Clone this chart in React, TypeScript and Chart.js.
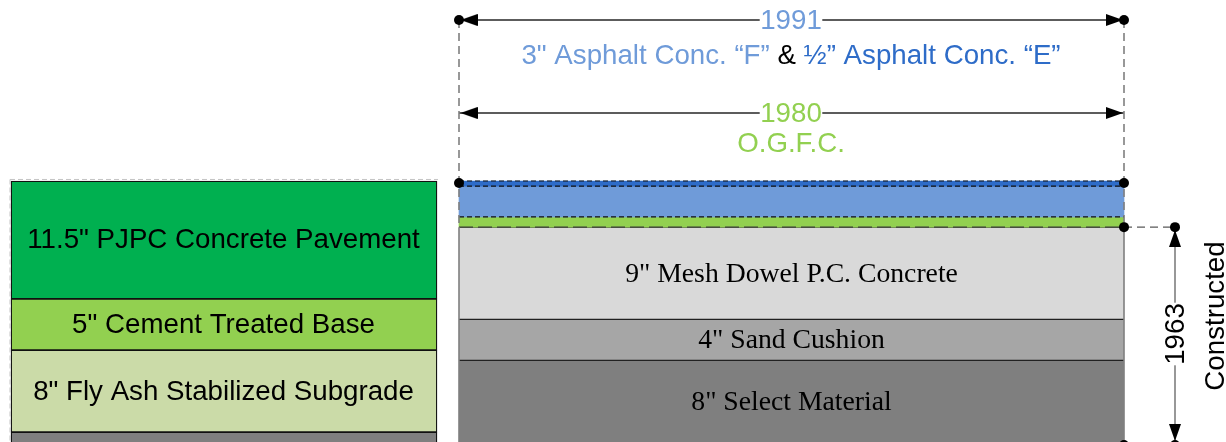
import React, { useEffect, useRef } from "react";
import { Chart, registerables } from "chart.js";

Chart.register(...registerables);

// ---- data: layer thickness in inches, top to bottom ----
const leftLayers = [11.5, 5, 8, 8];
const leftLabels = ['11.5" PJPC Concrete Pavement', '5" Cement Treated Base', '8" Fly Ash Stabilized Subgrade', ""];
const leftColors = ["#00b050", "#92d050", "#cbdba8", "#7f7f7f"];

const rightLayers = [0.5, 3, 1, 9, 4, 8];
const rightLabels = ["", "", "", '9" Mesh Dowel P.C. Concrete', '4" Sand Cushion', '8" Select Material'];
const rightColors = ["#2e6cc8", "#6f9bd9", "#92d050", "#d9d9d9", "#a6a6a6", "#7f7f7f"];

const yearTop = "1991";
const yearMid = "1980";
const yearSide = "1963";
const sideTitle = "Constructed";
const midTitle = "O.G.F.C.";
const topTitle = [
  { t: '3" Asphalt Conc. “F” ', c: "#6f9bd9" },
  { t: "& ", c: "#000000" },
  { t: "½” Asphalt Conc. “E”", c: "#2e6cc8" },
];

// ---- layout ----
const PX = 10.25;
const TOP = 181;
const W = 1226;
const H = 442;
const L0 = 11, L1 = 437, R0 = 459, R1 = 1124, SIDE = 1175;
const d = (py: number) => (py - TOP) / PX;

function stack(vals: number[]) {
  let a = 0;
  return vals.map((v) => {
    const r = [a, a + v];
    a += v;
    return r;
  });
}

function arrow() {
  const len = 17, half = 6;
  const c = document.createElement("canvas");
  c.width = len * 2;
  c.height = half * 2 + 2;
  const g = c.getContext("2d")!;
  g.fillStyle = "#000";
  g.beginPath();
  g.moveTo(len, half + 1);
  g.lineTo(0, 1);
  g.lineTo(0, half * 2 + 1);
  g.closePath();
  g.fill();
  return c;
}

const line = (pts: number[][], color: string, width: number, dash: number[] = []) => ({
  type: "line" as const,
  order: 1,
  data: pts.map(([x, y]) => ({ x, y })),
  borderColor: color,
  borderWidth: width,
  borderDash: dash,
  pointRadius: 0,
  fill: false,
  tension: 0,
});

const textPlugin = {
  id: "layerText",
  afterDatasetsDraw(chart: any) {
    const ctx = chart.ctx;
    const sx = chart.scales.x;
    const sy = chart.scales.y;
    const px = (v: number) => sx.getPixelForValue(v);
    const py = (v: number) => sy.getPixelForValue(v);
    const put = (s: string, x: number, y: number, font: string, color: string, bg = false, rot = 0) => {
      ctx.save();
      ctx.translate(x, y);
      ctx.rotate(rot);
      ctx.font = font;
      ctx.textAlign = "center";
      ctx.textBaseline = "middle";
      if (bg) {
        const w = ctx.measureText(s).width + 1;
        ctx.fillStyle = "#fff";
        ctx.fillRect(-w / 2, -12, w, 24);
      }
      ctx.fillStyle = color;
      ctx.fillText(s, 0, 1);
      ctx.restore();
    };
    const sans = '27.7px "Liberation Sans"';
    const serif = '27.7px "Liberation Serif"';
    const leftNudge = [-1, 0, 0, 0];
    stack(leftLayers).forEach(([a, b], i) => {
      if (leftLabels[i]) put(leftLabels[i], px((L0 + L1) / 2) - 0.5, py((a + b) / 2) + leftNudge[i], sans, "#000");
    });
    stack(rightLayers).forEach(([a, b], i) => {
      if (rightLabels[i]) put(rightLabels[i], px((R0 + R1) / 2), py((a + b) / 2), serif, "#000");
    });
    put(yearTop, px(791), py(d(20.5)), sans, "#6f9bd9", true);
    put(yearMid, px(791), py(d(113)), sans, "#92d050", true);
    put(midTitle, px(791), py(d(143)), sans, "#92d050");
    put(yearSide, px(SIDE), py(d(334)), sans, "#000", true, -Math.PI / 2);
    put(sideTitle, px(1215.5), py(d(316)), sans, "#000", false, -Math.PI / 2);
    // three coloured pieces of the top caption
    ctx.save();
    ctx.font = sans;
    ctx.textBaseline = "middle";
    ctx.textAlign = "left";
    const total = topTitle.reduce((s, p) => s + ctx.measureText(p.t).width, 0);
    let x = px(791) - total / 2;
    for (const p of topTitle) {
      ctx.fillStyle = p.c;
      ctx.fillText(p.t, x, py(d(56.5)));
      x += ctx.measureText(p.t).width;
    }
    ctx.restore();
  },
};

export default function App() {
  const ref = useRef<HTMLCanvasElement>(null);
  useEffect(() => {
    document.body.style.margin = "0";
    const head = arrow();
    const bars = (layers: number[], colors: string[], a: number, b: number, border: any) =>
      stack(layers).map((r, i) => ({
        type: "bar" as const,
        order: 2,
        grouped: false,
        data: [{ x: (a + b) / 2, y: r }],
        backgroundColor: colors[i],
        barThickness: b - a,
        borderColor: border.color,
        borderWidth: border.width(i),
        borderSkipped: false,
      }));
    const tips = (pts: number[][], deg: number) => ({
      type: "line" as const,
      order: 0,
      data: pts.map(([x, y]) => ({ x, y })),
      showLine: false,
      pointStyle: head,
      pointRotation: deg,
      pointRadius: 10,
    });
    const rightEnd = stack(rightLayers);
    const chart = new Chart(ref.current!, {
      type: "bar",
      data: {
        datasets: [
          ...bars(leftLayers, leftColors, L0, L1, { color: "#111", width: () => 1.3 }),
          ...bars(rightLayers, rightColors, R0, R1, {
            color: "#222",
            width: (i: number) =>
              i > 2 ? { top: 1, bottom: i === rightLayers.length - 1 ? 0 : 1, left: 0, right: 0 } : 0,
          }),
          // faint construction outline round the left column
          line([[L0 - 1, -0.15], [L1 + 1, -0.15]], "#c4c4c4", 1, [5, 3]),
          line([[L0 - 1, -0.15], [L0 - 1, d(H)]], "#c4c4c4", 1, [5, 3]),
          // solid sides of the 1963 structure
          line([[R0, rightEnd[3][0]], [R0, d(H + 5)]], "#7f7f7f", 1.6),
          line([[R1, rightEnd[3][0]], [R1, d(H + 5)]], "#7f7f7f", 1.6),
          // extension lines
          line([[R0, d(20)], [R0, rightEnd[2][1]]], "#7f7f7f", 1.6, [8, 5]),
          line([[R1, d(20)], [R1, rightEnd[2][1]]], "#7f7f7f", 1.6, [8, 5]),
          line([[R1, rightEnd[3][0]], [SIDE, rightEnd[3][0]]], "#595959", 1.3, [8, 5]),
          // overlay boundaries
          line([[R0, rightEnd[0][0]], [R1, rightEnd[0][0]]], "#111", 1.2, [5, 3]),
          line([[R0, rightEnd[1][0]], [R1, rightEnd[1][0]]], "#111", 1.2, [5, 3]),
          line([[R0, rightEnd[2][0]], [R1, rightEnd[2][0]]], "#111", 1.2, [5, 3]),
          line([[R0, rightEnd[3][0]], [R1, rightEnd[3][0]]], "#3a3a3a", 1.4, [14, 5]),
          // dimension lines
          line([[R0, d(20)], [R1, d(20)]], "#262626", 1.4),
          line([[R0, d(113)], [R1, d(113)]], "#262626", 1.4),
          line([[SIDE, rightEnd[3][0]], [SIDE, d(H + 5)]], "#7f7f7f", 1.6),
          tips([[R1 - 1, d(20)], [R1 - 1, d(113)]], 0),
          tips([[R0 + 1.5, d(20)], [R0 + 1.5, d(113)]], 180),
          tips([[SIDE, d(230)]], -90),
          tips([[SIDE, d(441)]], 90),
          {
            type: "line" as const,
            order: 0,
            data: [
              { x: R0, y: d(20) },
              { x: R1, y: d(20) },
              { x: R0, y: d(183) },
              { x: R1, y: d(183) },
              { x: R1, y: rightEnd[3][0] },
              { x: SIDE, y: rightEnd[3][0] },
              { x: R1, y: d(445) },
              { x: SIDE, y: d(445) },
            ],
            showLine: false,
            pointRadius: 5,
            pointBackgroundColor: "#000",
            pointBorderWidth: 0,
          },
        ] as any,
      },
      options: {
        animation: false,
        responsive: false,
        devicePixelRatio: 1,
        layout: { padding: 0, autoPadding: false },
        events: [],
        plugins: { legend: { display: false }, tooltip: { enabled: false } },
        scales: {
          x: { type: "linear", min: 0, max: W, display: false, offset: false, bounds: "data", grid: { offset: false } },
          y: { type: "linear", reverse: true, min: d(0), max: d(H), display: false, offset: false, bounds: "data", beginAtZero: false },
        },
      },
      plugins: [textPlugin],
    });
    return () => chart.destroy();
  }, []);
  return (
    <div style={{ position: "fixed", left: 0, top: 0, width: W, height: H, background: "#fff" }}>
      <canvas ref={ref} width={W} height={H} style={{ display: "block" }} />
    </div>
  );
}
